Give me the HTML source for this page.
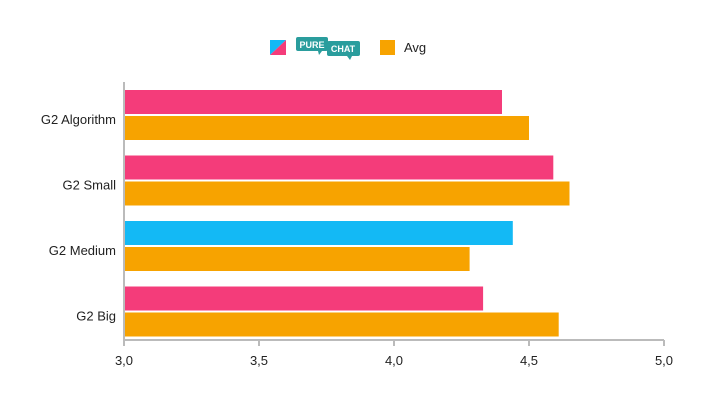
<!DOCTYPE html>
<html><head><meta charset="utf-8"><style>
body{margin:0;background:#fff;}
svg text{font-family:"Liberation Sans",sans-serif;fill:#222;}
</style></head><body>
<svg width="701" height="401">
<g>
 <g>
  <polygon points="270,40 286,40 270,55" fill="#13b9f5"/>
  <polygon points="286,40 286,55 270,55" fill="#f43c7a"/>
  <rect x="296" y="37" width="32" height="14" rx="2" fill="#2a9d9d"/>
  <polygon points="318,51 322,51 319,55" fill="#2a9d9d"/>
  <text x="312" y="48" font-size="9" font-weight="bold" text-anchor="middle" style="fill:#fff">PURE</text>
  <rect x="327" y="41" width="33" height="15" rx="2" fill="#2a9d9d"/>
  <polygon points="347,56 352,56 350,60" fill="#2a9d9d"/>
  <text x="343" y="52" font-size="9" font-weight="bold" text-anchor="middle" style="fill:#fff">CHAT</text>
 </g>
 <g>
  <rect x="380" y="40" width="15" height="15" fill="#f7a300"/>
  <text x="404" y="52" font-size="13">Avg</text>
 </g>
</g>
<g id="plot"></g>
</svg>
<script>
const categories=["G2 Algorithm","G2 Small","G2 Medium","G2 Big"];
const pureChat=[4.40,4.59,4.44,4.33];
const pureColors=["#f43c7a","#f43c7a","#13b9f5","#f43c7a"];
const avg=[4.50,4.65,4.28,4.61];
const ticks=[3.0,3.5,4.0,4.5,5.0];
const ns="http://www.w3.org/2000/svg";
const g=document.getElementById("plot");
const x0=124,x1=664,plotTop=82,band=65.5,bottom=340;
const xs=v=>x0+(v-3)/(2)*(x1-x0);
function mk(t,a){const e=document.createElementNS(ns,t);for(const k in a)e.setAttribute(k,a[k]);g.appendChild(e);return e;}
categories.forEach((c,i)=>{
 const by=plotTop+i*band+8;
 let r=mk("rect",{x:x0,y:by,width:xs(pureChat[i])-x0,height:24,fill:pureColors[i]});
 
 
 r=mk("rect",{x:x0,y:by+26,width:xs(avg[i])-x0,height:24,fill:"#f7a300"});
 
 
 const t=mk("text",{x:116,y:by+34,"font-size":13,"text-anchor":"end"});t.textContent=c;
 
 
});
let l=mk("line",{x1:x0,y1:plotTop,x2:x0,y2:bottom,stroke:"#bbb","stroke-width":2});


l=mk("line",{x1:x0,y1:bottom,x2:x1,y2:bottom,stroke:"#bbb","stroke-width":2});


ticks.forEach(v=>{
 const tk=mk("line",{x1:xs(v),y1:bottom,x2:xs(v),y2:bottom+6,stroke:"#bbb","stroke-width":2});
 
 
 const t=mk("text",{x:xs(v),y:bottom+25,"font-size":13,"text-anchor":"middle"});
 t.textContent=v.toFixed(1).replace(".",",");
 
 
});
</script>
</body></html>
